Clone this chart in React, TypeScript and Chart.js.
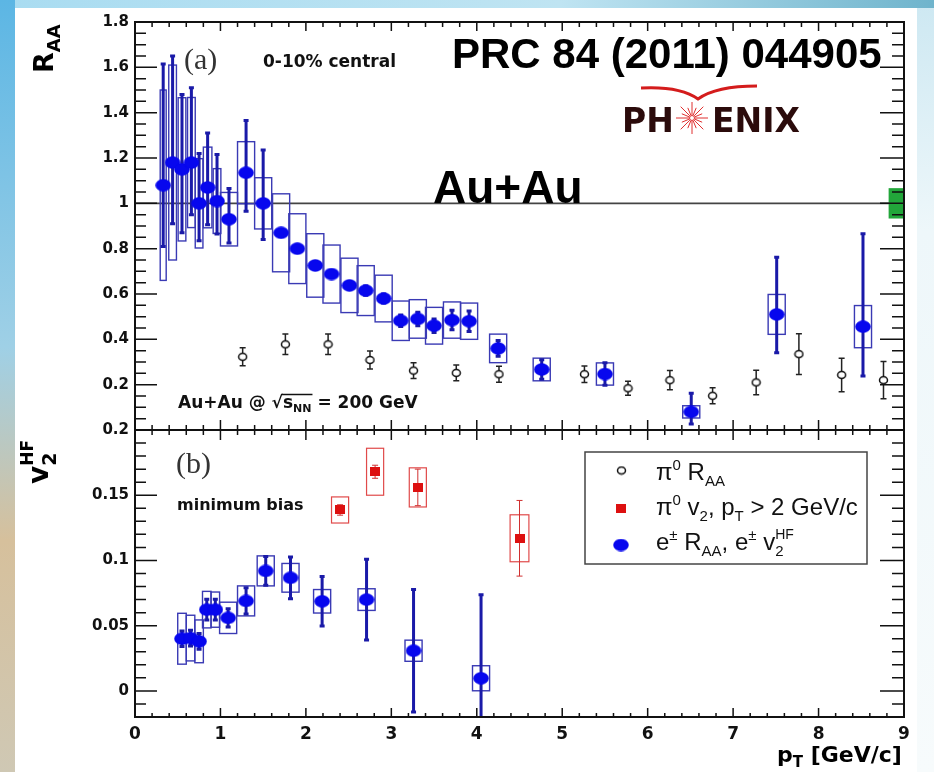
import React, { useEffect, useRef } from "react";
import { Chart, registerables } from "chart.js";
Chart.register(...registerables);

const W = 934;
const H = 772;

// ---------- tick labels ----------
const X_TICKS = [0, 1, 2, 3, 4, 5, 6, 7, 8, 9];
const Y_TOP_TICKS = [0.2, 0.4, 0.6, 0.8, 1, 1.2, 1.4, 1.6, 1.8];
const Y_BOT_TICKS = [0, 0.05, 0.1, 0.15, 0.2];

// ---------- panel (a): heavy-flavour electron R_AA ----------
const E_RAA_PT = [0.33, 0.44, 0.55, 0.66, 0.75, 0.85, 0.96, 1.1, 1.3, 1.5, 1.71, 1.9, 2.11, 2.3, 2.51, 2.7, 2.91, 3.11, 3.31, 3.5, 3.71, 3.91, 4.25, 4.76, 5.5, 6.51, 7.51, 8.52];
const E_RAA = [1.08, 1.18, 1.15, 1.18, 1.0, 1.07, 1.01, 0.93, 1.135, 1.0, 0.87, 0.8, 0.726, 0.688, 0.638, 0.615, 0.58, 0.482, 0.49, 0.46, 0.485, 0.48, 0.36, 0.267, 0.247, 0.08, 0.51, 0.456];
const E_RAA_STAT_UP = [0.535, 0.47, 0.33, 0.33, 0.22, 0.24, 0.205, 0.135, 0.23, 0.235, 0.015, 0.015, 0.015, 0.015, 0.015, 0.02, 0.02, 0.025, 0.03, 0.03, 0.043, 0.045, 0.035, 0.043, 0.05, 0.082, 0.252, 0.41];
const E_RAA_STAT_DN = [0.27, 0.27, 0.28, 0.23, 0.165, 0.165, 0.145, 0.105, 0.17, 0.16, 0.015, 0.015, 0.015, 0.015, 0.015, 0.02, 0.02, 0.025, 0.03, 0.03, 0.043, 0.045, 0.035, 0.043, 0.05, 0.054, 0.169, 0.218];
const E_RAA_SYS = [0.42, 0.43, 0.316, 0.287, 0.197, 0.178, 0.143, 0.118, 0.137, 0.113, 0.172, 0.154, 0.14, 0.128, 0.12, 0.11, 0.103, 0.087, 0.085, 0.081, 0.08, 0.08, 0.063, 0.05, 0.049, 0.027, 0.088, 0.093];
const E_RAA_HALFBIN = [0.035, 0.045, 0.045, 0.045, 0.045, 0.05, 0.045, 0.1, 0.1, 0.1, 0.1, 0.1, 0.1, 0.1, 0.1, 0.1, 0.1, 0.1, 0.1, 0.1, 0.1, 0.1, 0.1, 0.1, 0.1, 0.1, 0.1, 0.1];

// ---------- panel (a): pi0 R_AA ----------
const PI_RAA_PT = [1.26, 1.76, 2.26, 2.75, 3.26, 3.76, 4.26, 5.26, 5.77, 6.26, 6.76, 7.27, 7.77, 8.27, 8.76];
const PI_RAA = [0.323, 0.378, 0.378, 0.309, 0.262, 0.252, 0.246, 0.246, 0.184, 0.22, 0.151, 0.21, 0.335, 0.243, 0.22];
const PI_RAA_ERR = [0.04, 0.045, 0.045, 0.04, 0.035, 0.035, 0.035, 0.036, 0.031, 0.042, 0.035, 0.054, 0.09, 0.074, 0.082];

// normalisation uncertainty at R_AA = 1
const NORM_UNC = 0.067;
const NORM_X = [8.82, 9.0];

// ---------- panel (b): electron v2 ----------
const E_V2_PT = [0.55, 0.65, 0.75, 0.84, 0.94, 1.09, 1.3, 1.53, 1.82, 2.19, 2.71, 3.26, 4.05];
const E_V2 = [0.04, 0.0405, 0.038, 0.0623, 0.0623, 0.056, 0.069, 0.092, 0.0867, 0.0687, 0.07, 0.0308, 0.0097];
const E_V2_STAT = [0.006, 0.006, 0.006, 0.008, 0.008, 0.007, 0.01, 0.011, 0.016, 0.019, 0.031, 0.047, 0.064];
const E_V2_SYS = [0.0195, 0.0175, 0.0164, 0.014, 0.0135, 0.012, 0.0115, 0.0115, 0.011, 0.009, 0.0083, 0.0081, 0.0096];
const E_V2_HALFBIN = [0.05, 0.05, 0.05, 0.05, 0.05, 0.1, 0.1, 0.1, 0.1, 0.1, 0.1, 0.1, 0.1];

// ---------- panel (b): pi0 v2 ----------
const PI_V2_PT = [2.4, 2.81, 3.31, 4.5];
const PI_V2 = [0.1387, 0.168, 0.156, 0.117];
const PI_V2_STAT = [0.004, 0.005, 0.014, 0.029];
const PI_V2_SYS = [0.01, 0.018, 0.015, 0.018];
const PI_V2_HALFBIN = [0.1, 0.1, 0.1, 0.11];

const SANS = '"DejaVu Sans", sans-serif';
const ARIAL = '"Liberation Sans", Arial, sans-serif';
const SERIF = '"Liberation Serif", "Times New Roman", serif';

const BLUE = "#0707ee";
const BAR_BLUE = "#1a1aa8";
const BOX_BLUE = "#3a3ab4";
const RED = "#dd1010";

function makeEllipse(w: number, h: number, fill: string | null, stroke: string | null, lw: number) {
  const c = document.createElement("canvas");
  c.width = w;
  c.height = h;
  const g = c.getContext("2d")!;
  g.beginPath();
  g.ellipse(w / 2, h / 2, w / 2 - lw, h / 2 - lw, 0, 0, Math.PI * 2);
  if (fill) {
    g.fillStyle = fill;
    g.fill();
  }
  if (stroke) {
    g.lineWidth = lw;
    g.strokeStyle = stroke;
    g.stroke();
  }
  return c;
}
function makeRect(w: number, h: number, fill: string) {
  const c = document.createElement("canvas");
  c.width = w;
  c.height = h;
  const g = c.getContext("2d")!;
  g.fillStyle = fill;
  g.fillRect(0, 0, w, h);
  return c;
}

const MARKERS: { blue?: HTMLCanvasElement; open?: HTMLCanvasElement; red?: HTMLCanvasElement } = {};

type Seg = [string, number, number, boolean?];
function rich(ctx: CanvasRenderingContext2D, x: number, y: number, segs: Seg[], family: string, weight: string) {
  let cx = x;
  let pend = 0;
  for (const [t, size, dy, keep] of segs) {
    ctx.font = `${weight} ${size}px ${family}`;
    ctx.fillText(t, cx, y + dy);
    const w = ctx.measureText(t).width;
    if (keep) pend = Math.max(pend, w);
    else {
      cx += Math.max(w, pend);
      pend = 0;
    }
  }
  return cx;
}

function errBar(ctx: CanvasRenderingContext2D, x: number, y0: number, y1: number, cap: number) {
  ctx.beginPath();
  ctx.moveTo(x, y0);
  ctx.lineTo(x, y1);
  ctx.moveTo(x - cap, y0);
  ctx.lineTo(x + cap, y0);
  ctx.moveTo(x - cap, y1);
  ctx.lineTo(x + cap, y1);
  ctx.stroke();
}

const panelPlugin = {
  id: "panelPlugin",
  beforeDraw(chart: any) {
    const ctx: CanvasRenderingContext2D = chart.ctx;
    ctx.save();
    const gl = ctx.createLinearGradient(0, 0, 0, H);
    gl.addColorStop(0, "#5cb6e4");
    gl.addColorStop(0.45, "#9fd0e6");
    gl.addColorStop(0.7, "#d6c09c");
    gl.addColorStop(1, "#cfc8b4");
    ctx.fillStyle = gl;
    ctx.fillRect(0, 0, W, H);
    const gt = ctx.createLinearGradient(0, 0, W, 0);
    gt.addColorStop(0, "#a9dcf1");
    gt.addColorStop(0.6, "#bfe4f2");
    gt.addColorStop(1, "#6fb4cc");
    ctx.fillStyle = gt;
    ctx.fillRect(15, 0, W - 15, 8);
    const gr = ctx.createLinearGradient(0, 0, 0, H);
    gr.addColorStop(0, "#cde8f2");
    gr.addColorStop(0.3, "#eef7fa");
    gr.addColorStop(1, "#f7fbfc");
    ctx.fillStyle = gr;
    ctx.fillRect(917, 8, W - 917, H - 8);
    ctx.fillStyle = "#ffffff";
    ctx.fillRect(15, 8, 902, H - 8);
    ctx.restore();
  },
  beforeDatasetsDraw(chart: any) {
    const ctx: CanvasRenderingContext2D = chart.ctx;
    const a = chart.chartArea;
    const X = chart.scales.x;
    const YT = chart.scales.yTop;
    const YB = chart.scales.yBot;
    const px = (v: number) => X.getPixelForValue(v);

    // ---- top panel ----
    ctx.save();
    ctx.beginPath();
    ctx.rect(a.left, YT.top, a.right - a.left, YT.bottom - YT.top);
    ctx.clip();

    ctx.strokeStyle = "#444";
    ctx.lineWidth = 1.6;
    ctx.beginPath();
    ctx.moveTo(a.left, YT.getPixelForValue(1));
    ctx.lineTo(a.right, YT.getPixelForValue(1));
    ctx.stroke();

    ctx.fillStyle = "#22a63a";
    const ny0 = YT.getPixelForValue(1 + NORM_UNC);
    const ny1 = YT.getPixelForValue(1 - NORM_UNC);
    ctx.fillRect(px(NORM_X[0]), ny0, px(NORM_X[1]) - px(NORM_X[0]), ny1 - ny0);

    ctx.strokeStyle = BOX_BLUE;
    ctx.lineWidth = 1.4;
    E_RAA_PT.forEach((pt, i) => {
      const x0 = px(pt - E_RAA_HALFBIN[i]);
      const x1 = px(pt + E_RAA_HALFBIN[i]);
      const y0 = YT.getPixelForValue(E_RAA[i] + E_RAA_SYS[i]);
      const y1 = YT.getPixelForValue(E_RAA[i] - E_RAA_SYS[i]);
      ctx.strokeRect(x0, y0, x1 - x0, y1 - y0);
    });
    ctx.strokeStyle = BAR_BLUE;
    ctx.lineWidth = 3;
    E_RAA_PT.forEach((pt, i) => {
      errBar(ctx, px(pt), YT.getPixelForValue(E_RAA[i] + E_RAA_STAT_UP[i]), YT.getPixelForValue(E_RAA[i] - E_RAA_STAT_DN[i]), 2.5);
    });
    ctx.strokeStyle = "#222";
    ctx.lineWidth = 1.5;
    PI_RAA_PT.forEach((pt, i) => {
      errBar(ctx, px(pt), YT.getPixelForValue(PI_RAA[i] + PI_RAA_ERR[i]), YT.getPixelForValue(PI_RAA[i] - PI_RAA_ERR[i]), 3);
    });
    ctx.restore();

    // ---- bottom panel ----
    ctx.save();
    ctx.beginPath();
    ctx.rect(a.left, YB.top, a.right - a.left, YB.bottom - YB.top);
    ctx.clip();
    ctx.strokeStyle = BOX_BLUE;
    ctx.lineWidth = 1.4;
    E_V2_PT.forEach((pt, i) => {
      const x0 = px(pt - E_V2_HALFBIN[i]);
      const x1 = px(pt + E_V2_HALFBIN[i]);
      const y0 = YB.getPixelForValue(E_V2[i] + E_V2_SYS[i]);
      const y1 = YB.getPixelForValue(E_V2[i] - E_V2_SYS[i]);
      ctx.strokeRect(x0, y0, x1 - x0, y1 - y0);
    });
    ctx.strokeStyle = BAR_BLUE;
    ctx.lineWidth = 3;
    E_V2_PT.forEach((pt, i) => {
      errBar(ctx, px(pt), YB.getPixelForValue(E_V2[i] + E_V2_STAT[i]), YB.getPixelForValue(E_V2[i] - E_V2_STAT[i]), 2.5);
    });
    ctx.strokeStyle = "#e04a4a";
    ctx.lineWidth = 1.2;
    PI_V2_PT.forEach((pt, i) => {
      const x0 = px(pt - PI_V2_HALFBIN[i]);
      const x1 = px(pt + PI_V2_HALFBIN[i]);
      const y0 = YB.getPixelForValue(PI_V2[i] + PI_V2_SYS[i]);
      const y1 = YB.getPixelForValue(PI_V2[i] - PI_V2_SYS[i]);
      ctx.strokeRect(x0, y0, x1 - x0, y1 - y0);
    });
    ctx.strokeStyle = "#d03030";
    ctx.lineWidth = 1;
    PI_V2_PT.forEach((pt, i) => {
      errBar(ctx, px(pt), YB.getPixelForValue(PI_V2[i] + PI_V2_STAT[i]), YB.getPixelForValue(PI_V2[i] - PI_V2_STAT[i]), 3);
    });
    ctx.restore();
  },
  afterDatasetsDraw(chart: any) {
    const ctx: CanvasRenderingContext2D = chart.ctx;
    const a = chart.chartArea;
    const X = chart.scales.x;
    const YT = chart.scales.yTop;
    const YB = chart.scales.yBot;
    const mid = YT.bottom;
    ctx.save();
    ctx.strokeStyle = "#111";
    ctx.lineWidth = 1.5;

    const isMajor = (v: number, step: number) => Math.abs(v / step - Math.round(v / step)) < 1e-6;
    const yTicks = (s: any, lo: number, hi: number, minor: number, major: number) => {
      const n = Math.round((hi - lo) / minor);
      ctx.beginPath();
      for (let k = 0; k <= n; k++) {
        const v = lo + k * minor;
        const y = s.getPixelForValue(v);
        const big = isMajor(v, major);
        ctx.moveTo(a.left, y);
        ctx.lineTo(a.left + (big ? 22 : 11), y);
        ctx.moveTo(a.right, y);
        ctx.lineTo(a.right - (big ? 24 : 12), y);
      }
      ctx.stroke();
    };
    yTicks(YT, 0, 1.8, 0.05, 0.2);
    yTicks(YB, -0.02, 0.2, 0.01, 0.05);

    const xTicks = (y: number, dir: number, majLen: number, minLen: number) => {
      const n = Math.round(9 / 0.2);
      ctx.beginPath();
      for (let k = 0; k <= n; k++) {
        const v = k * 0.2;
        const x = X.getPixelForValue(v);
        const big = isMajor(v, 1);
        ctx.moveTo(x, y);
        ctx.lineTo(x, y + dir * (big ? majLen : minLen));
      }
      ctx.stroke();
    };
    xTicks(a.top, 1, 9, 5);
    xTicks(mid, -1, 10, 5);
    xTicks(mid, 1, 10, 5);
    xTicks(a.bottom, -1, 9, 4);

    ctx.lineWidth = 2;
    ctx.strokeRect(a.left, a.top, a.right - a.left, a.bottom - a.top);
    ctx.beginPath();
    ctx.moveTo(a.left, mid);
    ctx.lineTo(a.right, mid);
    ctx.stroke();
    ctx.restore();

    // ---------- texts ----------
    ctx.save();
    ctx.textBaseline = "alphabetic";
    ctx.textAlign = "left";
    ctx.fillStyle = "#333";
    ctx.font = `30px ${SERIF}`;
    ctx.fillText("(a)", 184, 69);
    ctx.fillText("(b)", 176, 473);

    ctx.fillStyle = "#111";
    ctx.font = `bold 17px ${SANS}`;
    ctx.fillText("0-10% central", 263, 67);
    ctx.font = `bold 16px ${SANS}`;
    ctx.fillText("minimum bias", 177, 510);

    {
      let cx = 178;
      const by = 408;
      ctx.font = `bold 17px ${SANS}`;
      ctx.fillText("Au+Au @ ", cx, by);
      cx += ctx.measureText("Au+Au @ ").width;
      ctx.fillText("\u221A", cx, by);
      cx += ctx.measureText("\u221A").width;
      const xs = cx - 1;
      ctx.fillText("s", cx, by);
      cx += ctx.measureText("s").width;
      ctx.font = `bold 11px ${SANS}`;
      ctx.fillText("NN", cx, by + 4);
      cx += ctx.measureText("NN").width;
      ctx.strokeStyle = "#111";
      ctx.lineWidth = 1.5;
      ctx.beginPath();
      ctx.moveTo(xs, by - 13.5);
      ctx.lineTo(cx + 1, by - 13.5);
      ctx.stroke();
      ctx.font = `bold 17px ${SANS}`;
      ctx.fillText(" = 200 GeV", cx, by);
    }

    ctx.fillStyle = "#000";
    ctx.font = `bold 42px ${ARIAL}`;
    ctx.fillText("PRC 84 (2011) 044905", 452, 68);
    ctx.font = `bold 46px ${ARIAL}`;
    ctx.fillText("Au+Au", 433, 203);

    // PHENIX logo
    ctx.fillStyle = "#2b0b0b";
    ctx.font = `bold 33px ${SANS}`;
    ctx.fillText("PH", 622, 132);
    ctx.fillText("ENIX", 712, 132);
    ctx.strokeStyle = "#d41c1c";
    ctx.lineWidth = 3;
    ctx.beginPath();
    ctx.moveTo(641, 88);
    ctx.quadraticCurveTo(680, 86, 698, 99);
    ctx.quadraticCurveTo(716, 86, 757, 86);
    ctx.stroke();
    ctx.lineWidth = 1;
    ctx.strokeStyle = "#e03030";
    const scx = 692,
      scy = 118;
    ctx.beginPath();
    for (let k = 0; k < 16; k++) {
      const ang = (k * Math.PI) / 8;
      const r = k % 2 === 0 ? 16 : 11;
      ctx.moveTo(scx + Math.cos(ang) * 3, scy + Math.sin(ang) * 3);
      ctx.lineTo(scx + Math.cos(ang) * r, scy + Math.sin(ang) * r);
    }
    ctx.stroke();
    ctx.fillStyle = "#fff";
    ctx.beginPath();
    ctx.arc(scx, scy, 2.5, 0, Math.PI * 2);
    ctx.fill();
    ctx.stroke();

    // axis titles
    ctx.fillStyle = "#000";
    ctx.save();
    ctx.translate(53, 73);
    ctx.rotate(-Math.PI / 2);
    rich(ctx, 0, 0, [["R", 27, 0], ["AA", 18, 7]], SANS, "bold");
    ctx.restore();
    ctx.save();
    ctx.translate(48, 484);
    ctx.rotate(-Math.PI / 2);
    rich(ctx, 0, 0, [["v", 28, 0], ["2", 19, 8, true], ["HF", 17, -15]], SANS, "bold");
    ctx.restore();
    rich(ctx, 777, 762, [["p", 22, 0], ["T", 15, 5], [" [GeV/c]", 22, 0]], SANS, "bold");

    // legend
    ctx.fillStyle = "#fff";
    ctx.fillRect(585, 452, 282, 112);
    ctx.strokeStyle = "#444";
    ctx.lineWidth = 1.5;
    ctx.strokeRect(585, 452, 282, 112);
    if (MARKERS.open) ctx.drawImage(MARKERS.open, 621 - 5, 470 - 4.5);
    if (MARKERS.red) ctx.drawImage(MARKERS.red, 621 - 5, 508 - 4.5);
    if (MARKERS.blue) ctx.drawImage(MARKERS.blue, 621 - 8, 545 - 6.5);
    ctx.fillStyle = "#111";
    const LF = ARIAL;
    rich(ctx, 656, 480, [["\u03C0", 24, 0], ["0", 15, -10], [" R", 24, 0], ["AA", 15, 6]], LF, "normal");
    rich(ctx, 656, 515, [["\u03C0", 24, 0], ["0", 15, -10], [" v", 24, 0], ["2", 15, 6], [", p", 24, 0], ["T", 15, 6], [" > 2 GeV/c", 24, 0]], LF, "normal");
    rich(ctx, 656, 550, [["e", 24, 0], ["\u00B1", 15, -10], [" R", 24, 0], ["AA", 15, 6], [", e", 24, 0], ["\u00B1", 15, -10], [" v", 24, 0], ["2", 15, 6, true], ["HF", 14, -11]], LF, "normal");
    ctx.restore();
  },
};

export default function App() {
  const ref = useRef<HTMLCanvasElement>(null);
  useEffect(() => {
    const canvas = ref.current!;
    const blue = makeEllipse(16, 13, BLUE, BLUE, 0.5);
    const open = makeEllipse(11, 10, "#ffffff", "#111111", 1.5);
    const red = makeRect(10, 9, RED);
    MARKERS.blue = blue;
    MARKERS.open = open;
    MARKERS.red = red;

    const tickFont = (size: number) => ({ family: SANS, weight: "bold" as const, size });
    const noGrid = { display: false, drawTicks: false, tickLength: 0 };

    const chart: any = new Chart(canvas, {
      type: "scatter",
      data: {
        datasets: [
          {
            label: "pi0 RAA",
            data: PI_RAA_PT.map((x, i) => ({ x, y: PI_RAA[i] })),
            yAxisID: "yTop",
            pointStyle: open as any,
            pointRadius: 5,
          },
          {
            label: "e RAA",
            data: E_RAA_PT.map((x, i) => ({ x, y: E_RAA[i] })),
            yAxisID: "yTop",
            pointStyle: blue as any,
            pointRadius: 7,
          },
          {
            label: "pi0 v2",
            data: PI_V2_PT.map((x, i) => ({ x, y: PI_V2[i] })),
            yAxisID: "yBot",
            pointStyle: red as any,
            pointRadius: 5,
          },
          {
            label: "e v2",
            data: E_V2_PT.map((x, i) => ({ x, y: E_V2[i] })),
            yAxisID: "yBot",
            pointStyle: blue as any,
            pointRadius: 7,
          },
        ],
      },
      options: {
        animation: false,
        responsive: false,
        events: [],
        layout: { padding: { left: 0, top: 22, right: 30, bottom: 0 } },
        plugins: { legend: { display: false }, tooltip: { enabled: false }, title: { display: false } },
        scales: {
          x: {
            type: "linear",
            position: "bottom",
            min: 0,
            max: 9,
            grid: noGrid,
            border: { display: false },
            ticks: { font: tickFont(17), color: "#111", padding: 7, autoSkip: false, maxRotation: 0, callback: (v: any) => String(v) },
            afterBuildTicks: (s: any) => {
              s.ticks = X_TICKS.map((v) => ({ value: v }));
            },
            afterFit: (s: any) => {
              s.height = 55;
            },
          },
          yBot: {
            type: "linear",
            position: "left",
            stack: "panels",
            stackWeight: 287,
            min: -0.02,
            max: 0.2,
            grid: noGrid,
            border: { display: false },
            ticks: { font: tickFont(15), color: "#111", padding: 6, autoSkip: false, callback: (v: any) => String(v) },
            afterBuildTicks: (s: any) => {
              s.ticks = Y_BOT_TICKS.map((v) => ({ value: v }));
            },
            afterFit: (s: any) => {
              s.width = 135;
            },
          },
          yTop: {
            type: "linear",
            position: "left",
            stack: "panels",
            stackWeight: 408,
            min: 0,
            max: 1.8,
            grid: noGrid,
            border: { display: false },
            ticks: { font: tickFont(15), color: "#111", padding: 6, autoSkip: false, callback: (v: any) => String(v) },
            afterBuildTicks: (s: any) => {
              s.ticks = Y_TOP_TICKS.map((v) => ({ value: v }));
            },
            afterFit: (s: any) => {
              s.width = 135;
            },
          },
        },
      } as any,
      plugins: [panelPlugin],
    });
    return () => chart.destroy();
  }, []);

  return (
    <div style={{ position: "absolute", left: 0, top: 0, width: W, height: H }}>
      <canvas ref={ref} width={W} height={H} style={{ display: "block", width: W, height: H }} />
    </div>
  );
}
